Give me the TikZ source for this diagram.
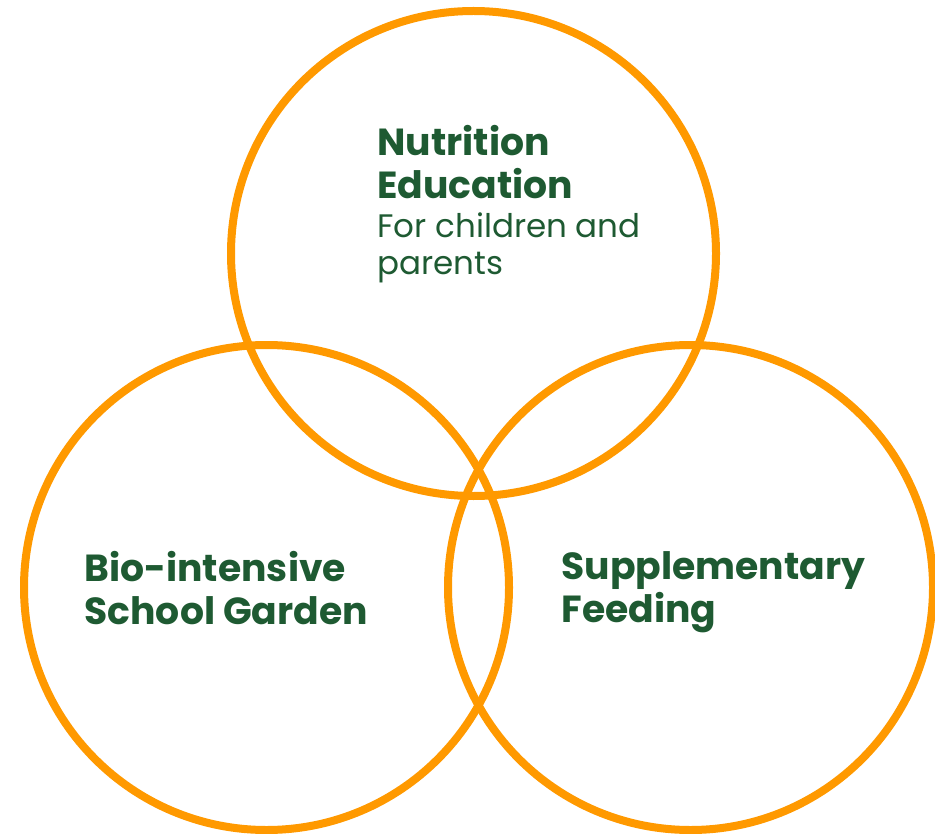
\documentclass[tikz,border=0pt]{standalone}
\usepackage{fontspec}
\setmainfont{Poppins}

\definecolor{ringorange}{RGB}{255,153,0}
\definecolor{leafgreen}{RGB}{30,90,50}

\tikzset{every picture/.style={line width=0.75pt}}
\tikzset{
  ring/.style={color=ringorange, draw opacity=1, line width=6},
  headtext/.style={anchor=north west, inner sep=0.75pt, align=left, text=leafgreen,
    font=\fontsize{28.3}{32.3}\selectfont\bfseries},
  subtext/.style={anchor=north west, inner sep=0.75pt, align=left, text=leafgreen,
    font=\fontsize{24.4}{27.75}\selectfont}
}

\begin{document}
\begin{tikzpicture}[x=0.75pt,y=0.75pt,yscale=-1,xscale=1]
\useasboundingbox (0,0) rectangle (935,834);
%Circle centres
\coordinate (topc) at (473.5,253.5);
\coordinate (leftc) at (266.5,587.5);
\coordinate (rightc) at (690.5,587.5);

%Shape: Circle [top]
\draw [ring] (topc) circle (242.5);
%Shape: Circle [left]
\draw [ring] (leftc) circle (242.5);
%Shape: Circle [right]
\draw [ring] (rightc) circle (242.5);

% Text Node
\draw (376,124) node [headtext] (nutr) {Nutrition\\Education};
% Text Node
\draw (376,211) node [subtext] (nutrsub) {For children and\\parents};
% Text Node
\draw (83,550) node [headtext] (garden) {Bio-intensive\\School Garden};
% Text Node
\draw (560,550) node [headtext] (feeding) {Supplementary\\Feeding};
\end{tikzpicture}
\end{document}
